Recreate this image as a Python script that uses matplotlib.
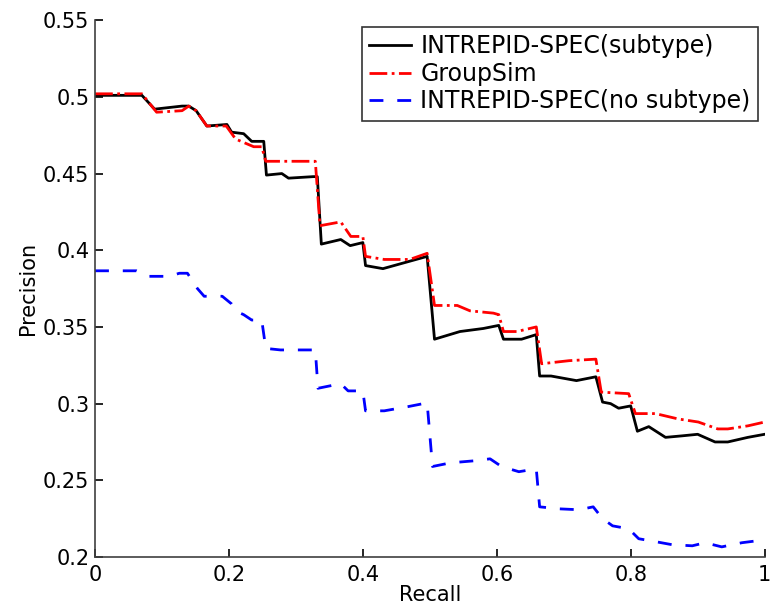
import matplotlib.pyplot as plt

plt.rcParams['font.family'] = ['DejaVu Sans']

# INTREPID-SPEC(subtype)
rec_sub = [0.0, 0.07, 0.089, 0.13, 0.14, 0.151, 0.167, 0.197, 0.204, 0.222, 0.234, 0.252,
           0.256, 0.279, 0.289, 0.326, 0.332, 0.338, 0.367, 0.381, 0.40, 0.404, 0.43, 0.496,
           0.507, 0.545, 0.58, 0.603, 0.61, 0.637, 0.659, 0.664, 0.681, 0.719, 0.748, 0.758,
           0.77, 0.782, 0.80, 0.81, 0.827, 0.852, 0.877, 0.90, 0.926, 0.945, 0.975, 1.0]
prec_sub = [0.501, 0.501, 0.492, 0.494, 0.494, 0.491, 0.481, 0.482, 0.477, 0.476, 0.471, 0.471,
            0.449, 0.450, 0.447, 0.448, 0.448, 0.404, 0.407, 0.403, 0.405, 0.390, 0.388, 0.396,
            0.342, 0.347, 0.349, 0.351, 0.342, 0.342, 0.345, 0.318, 0.318, 0.315, 0.3175, 0.301,
            0.300, 0.297, 0.2985, 0.282, 0.285, 0.278, 0.279, 0.280, 0.275, 0.275, 0.278, 0.280]

# GroupSim
rec_gs = [0.0, 0.07, 0.092, 0.13, 0.14, 0.151, 0.167, 0.196, 0.21, 0.237, 0.249, 0.255,
          0.279, 0.329, 0.336, 0.367, 0.382, 0.40, 0.404, 0.432, 0.47, 0.496, 0.507, 0.541,
          0.56, 0.595, 0.603, 0.61, 0.63, 0.659, 0.667, 0.708, 0.748, 0.756, 0.797, 0.807,
          0.837, 0.871, 0.901, 0.93, 0.945, 0.975, 1.0]
prec_gs = [0.502, 0.502, 0.490, 0.491, 0.494, 0.491, 0.481, 0.481, 0.4725, 0.4675, 0.4675, 0.458,
           0.458, 0.458, 0.416, 0.4185, 0.409, 0.409, 0.396, 0.394, 0.394, 0.398, 0.364, 0.364,
           0.3605, 0.359, 0.358, 0.347, 0.347, 0.350, 0.326, 0.328, 0.329, 0.3075, 0.3065, 0.2935,
           0.2935, 0.290, 0.288, 0.2835, 0.2835, 0.2855, 0.288]

# INTREPID-SPEC(no subtype)
rec_nos = [0.0, 0.062, 0.081, 0.111, 0.126, 0.138, 0.153, 0.163, 0.19, 0.204, 0.212, 0.222,
           0.234, 0.249, 0.255, 0.277, 0.329, 0.333, 0.359, 0.367, 0.378, 0.40, 0.404, 0.432,
           0.467, 0.496, 0.504, 0.531, 0.566, 0.59, 0.607, 0.633, 0.659, 0.664, 0.693, 0.723,
           0.744, 0.758, 0.773, 0.797, 0.812, 0.837, 0.862, 0.892, 0.911, 0.936, 0.966, 1.0]
prec_nos = [0.3866, 0.3866, 0.383, 0.383, 0.385, 0.385, 0.375, 0.370, 0.370, 0.365, 0.360, 0.358,
            0.3545, 0.3545, 0.336, 0.335, 0.335, 0.310, 0.3123, 0.313, 0.3083, 0.3083, 0.2953, 0.2953,
            0.298, 0.3005, 0.259, 0.2614, 0.2627, 0.264, 0.259, 0.2556, 0.2575, 0.2327, 0.2314, 0.2308,
            0.2327, 0.225, 0.2203, 0.2184, 0.2119, 0.210, 0.208, 0.2073, 0.2093, 0.2066, 0.2093, 0.2112]

fig = plt.figure(figsize=(7.75, 6.1), dpi=100)
ax = fig.add_axes([0.1226, 0.0869, 0.864, 0.880])

ax.plot(rec_sub, prec_sub, color='k', lw=2, label='INTREPID-SPEC(subtype)')
ax.plot(rec_gs, prec_gs, color='r', lw=2, ls='-.', label='GroupSim')
ax.plot(rec_nos, prec_nos, color='b', lw=2, ls='--', dashes=(5, 5), label='INTREPID-SPEC(no subtype)')

ax.set_xlim(0, 1)
ax.set_ylim(0.2, 0.55)
ax.set_xticks([0, 0.2, 0.4, 0.6, 0.8, 1])
ax.set_xticklabels(['0', '0.2', '0.4', '0.6', '0.8', '1'])
ax.set_yticks([0.2, 0.25, 0.3, 0.35, 0.4, 0.45, 0.5, 0.55])
ax.set_yticklabels(['0.2', '0.25', '0.3', '0.35', '0.4', '0.45', '0.5', '0.55'])
ax.tick_params(direction='in', labelsize=15, length=6, width=1.2)
ax.tick_params(axis='y', pad=4)
ax.tick_params(axis='x', pad=6)
ax.spines['top'].set_visible(False)
ax.spines['right'].set_visible(False)
for s in ['left', 'bottom']:
    ax.spines[s].set_linewidth(1.2)
    ax.spines[s].set_color('#404040')

ax.set_xlabel('Recall', fontsize=15, labelpad=0)
ax.set_ylabel('Precision', fontsize=15, labelpad=4)

leg = ax.legend(loc='upper right', fontsize=17, frameon=True, fancybox=False,
                edgecolor='k', handlelength=1.8, handletextpad=0.38, borderpad=0.3,
                labelspacing=0.15, borderaxespad=0.3)
leg.get_frame().set_linewidth(1.2)

fig.savefig('out.png', dpi=100)
